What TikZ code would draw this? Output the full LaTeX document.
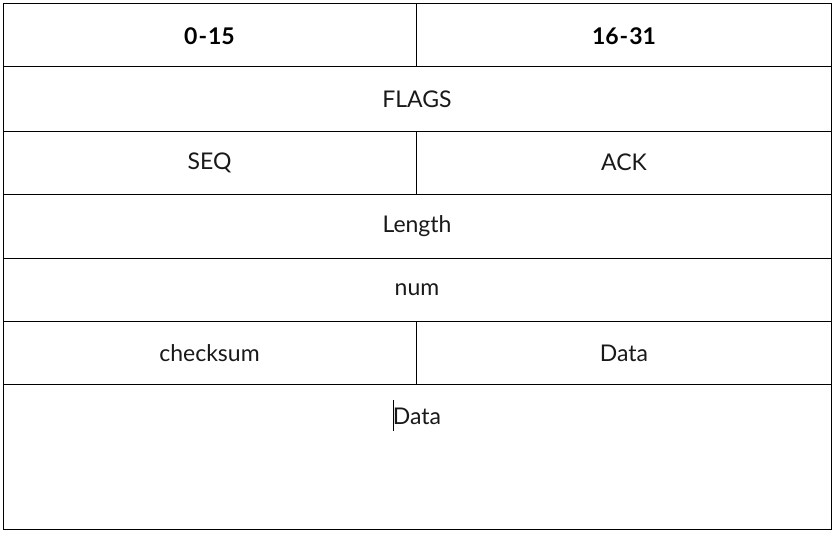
\documentclass[tikz,border=0pt]{standalone}
\usepackage{fontspec}
\setmainfont{Lato}
\begin{document}
\begin{tikzpicture}[x=1pt,y=-1pt,
  cellline/.style={line width=1pt,black},
  celltext/.style={font=\fontsize{23}{27}\selectfont\addfontfeatures{Weight=Light}, text=black!90, inner sep=0pt},
  headtext/.style={font=\fontsize{23}{27}\selectfont\bfseries, text=black, inner sep=0pt}]
\useasboundingbox (0,0) rectangle (834,532);
% outer frame and row separators
\draw[cellline] (3,4) rectangle (831,529);
\foreach \y in {67,131,194,258,321,384} \draw[cellline] (3,\y) -- (831,\y);
% column split in the two-field rows
\draw[cellline] (416,4) -- (416,67);
\draw[cellline] (416,131) -- (416,194);
\draw[cellline] (416,321) -- (416,384);
% field labels
\node[headtext] (h1) at (209.5,36) {0\kern1pt-\kern1pt15};
\node[headtext] (h2) at (624,36) {16\kern1pt-\kern1pt31};
\node[celltext] (flags) at (417,99) {FLAGS};
\node[celltext] (seq) at (209.5,162.5) {SEQ};
\node[celltext] (ack) at (624,162.5) {ACK};
\node[celltext] (len) at (417,226) {Length};
\node[celltext] (num) at (417,290) {num};
\node[celltext] (chk) at (209.5,353) {checksum};
\node[celltext] (dat1) at (624,353) {Data};
\node[celltext] (dat2) at (417,416) {Data};
% text cursor
\draw[line width=1pt] (393,400) -- (393,431);
\end{tikzpicture}
\end{document}
